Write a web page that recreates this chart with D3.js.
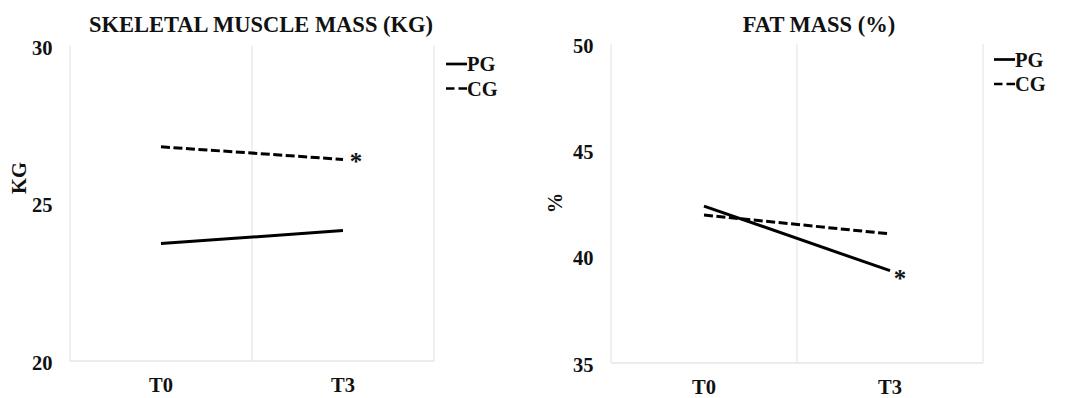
<!DOCTYPE html>
<html lang="en">
	<head>
		<meta charset="utf-8">
		<title>Skeletal muscle mass and fat mass</title>
		<script src="https://d3js.org/d3.v7.min.js" charset="utf-8"></script>
		<style type="text/css">
			body { margin: 0; background: #fff; }
		</style>
	</head>
	<body>
		<div id="main"></div>

		<script type="text/javascript">

			// data
			var times = ["T0", "T3"];
			var groups = ["PG", "CG"];

			var muscleTitle = "SKELETAL MUSCLE MASS (KG)";
			var musclePG = [23.73, 24.14];
			var muscleCG = [26.8, 26.4];
			var muscleTicks = [20, 25, 30];

			var fatTitle = "FAT MASS (%)";
			var fatPG = [42.38, 39.34];
			var fatCG = [41.96, 41.07];
			var fatTicks = [35, 40, 45, 50];

			var w = 1066;
			var h = 398;
			var serif = "'Liberation Serif', 'Times New Roman', serif";

			var svg = d3.select("#main")
				.append("svg")
				.attr("width", w)
				.attr("height", h);

			function bold(sel, size) {
				sel.attr("font-family", null)
					.style("font-family", serif)
					.style("font-weight", "bold")
					.style("font-size", size + "px")
					.style("fill", "#111");
				return sel;
			}

			function drawPanel(opt) {
				var g = svg.append("g");

				var x = d3.scaleBand()
					.domain(times)
					.range([opt.left, opt.right]);

				var y = d3.scaleLinear()
					.domain([opt.ticks[0], opt.ticks[opt.ticks.length - 1]])
					.range([opt.bottom, opt.top]);

				// vertical gridlines at category edges
				var edges = [opt.left, opt.left + x.bandwidth(), opt.right];
				g.selectAll(".grid")
					.data(edges)
					.enter()
					.append("line")
					.attr("x1", function(d) { return d; })
					.attr("x2", function(d) { return d; })
					.attr("y1", opt.top)
					.attr("y2", opt.bottom)
					.attr("stroke", "#e6e6e6")
					.attr("stroke-width", 1.2);

				g.append("line")
					.attr("x1", opt.left)
					.attr("x2", opt.right)
					.attr("y1", opt.bottom)
					.attr("y2", opt.bottom)
					.attr("stroke", "#e6e6e6")
					.attr("stroke-width", 1.5);

				// y axis labels
				var yAxis = d3.axisLeft(y)
					.tickValues(opt.ticks)
					.tickSize(0)
					.tickPadding(17.5);
				var ya = g.append("g")
					.attr("transform", "translate(" + opt.left + ",0)")
					.call(yAxis)
					.attr("font-family", null);
				ya.select(".domain").remove();
				bold(ya.selectAll("text"), 20.5).attr("dy", "0.4em");

				// x axis labels
				var xAxis = d3.axisBottom(x)
					.tickSize(0)
					.tickPadding(16);
				var xa = g.append("g")
					.attr("transform", "translate(0," + opt.bottom + ")")
					.call(xAxis)
					.attr("font-family", null);
				xa.select(".domain").remove();
				bold(xa.selectAll("text"), 20.5);

				// title
				bold(g.append("text"), opt.titleSize)
					.attr("x", opt.titleX)
					.attr("y", 32)
					.attr("text-anchor", "middle")
					.text(opt.title);

				// y axis title
				bold(g.append("text"), 20.5)
					.attr("transform", "translate(" + opt.yTitleX + "," + opt.yTitleY + ") rotate(-90)")
					.attr("text-anchor", "middle")
					.attr("dy", "0.35em")
					.text(opt.yTitle);

				var line = d3.line()
					.x(function(d, i) { return x(times[i]) + x.bandwidth() / 2; })
					.y(function(d) { return y(d); });

				var series = [
					{ name: groups[0], values: opt.pg, dash: null },
					{ name: groups[1], values: opt.cg, dash: "9,3.5" }
				];

				g.selectAll(".series")
					.data(series)
					.enter()
					.append("path")
					.attr("d", function(d) { return line(d.values); })
					.attr("fill", "none")
					.attr("stroke", "#000")
					.attr("stroke-width", 3)
					.attr("stroke-dasharray", function(d) { return d.dash; });

				// significance marker
				var sig = series[opt.star].values;
				bold(g.append("text"), 25)
					.attr("x", x(times[1]) + x.bandwidth() / 2 + opt.starDx)
					.attr("y", y(sig[1]) + opt.starDy)
					.attr("text-anchor", "middle")
					.text("*");

				// legend
				var leg = g.selectAll(".legend")
					.data(series)
					.enter()
					.append("g")
					.attr("transform", function(d, i) {
						return "translate(" + opt.legX + "," + (opt.legY + i * 24.5) + ")";
					});
				leg.append("line")
					.attr("x1", 0)
					.attr("x2", 21)
					.attr("stroke", "#000")
					.attr("stroke-width", 2.7)
					.attr("stroke-dasharray", function(d) { return d.dash ? "8.5,4" : null; });
				bold(leg.append("text"), 20.5)
					.attr("x", 21)
					.attr("dy", "0.35em")
					.text(function(d) { return d.name; });
			}

			drawPanel({
				title: muscleTitle, titleX: 261, titleSize: 22.5,
				yTitle: "KG", yTitleX: 19, yTitleY: 178,
				ticks: muscleTicks, pg: musclePG, cg: muscleCG,
				left: 70, right: 434, top: 46, bottom: 361,
				star: 1, starDx: 13, starDy: 11,
				legX: 446, legY: 64
			});

			drawPanel({
				title: fatTitle, titleX: 819, titleSize: 22.5,
				yTitle: "%", yTitleX: 555, yTitleY: 203,
				ticks: fatTicks, pg: fatPG, cg: fatCG,
				left: 611, right: 983, top: 44, bottom: 363,
				star: 0, starDx: 10, starDy: 16,
				legX: 994, legY: 59.5
			});

		</script>
	</body>
</html>
